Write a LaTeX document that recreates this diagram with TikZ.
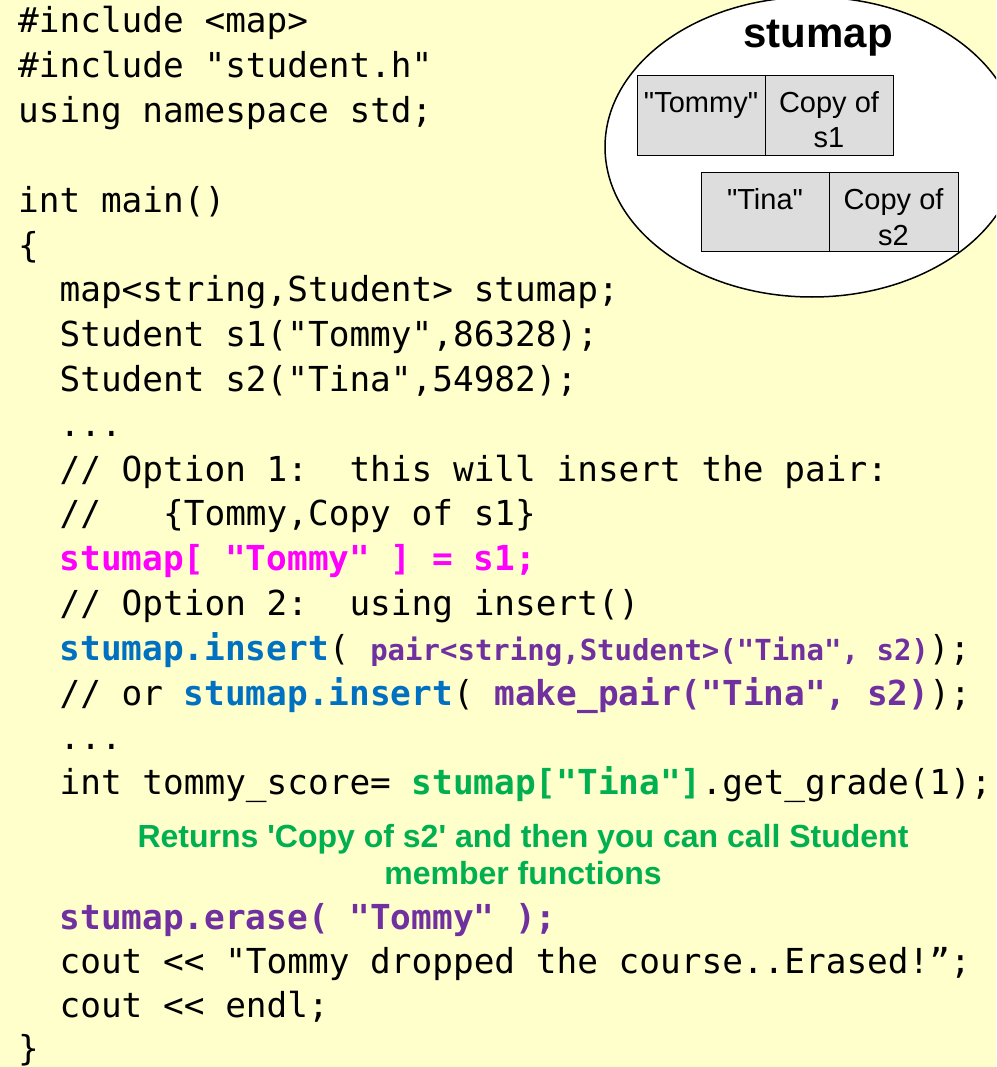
\documentclass[tikz,border=0pt]{standalone}
\usepackage{fontspec}
\usetikzlibrary{shapes.geometric}
\newfontfamily\codefont[Ligatures=TeXOff]{DejaVu Sans Mono}
\newfontfamily\arialfont[Ligatures=TeXOff]{Liberation Sans}
\definecolor{bgyellow}{HTML}{FFFFCC}
\definecolor{cellgray}{HTML}{DDDDDD}
\definecolor{cmagenta}{HTML}{FF00FF}
\definecolor{cblue}{HTML}{0070C0}
\definecolor{cpurple}{HTML}{7030A0}
\definecolor{cgreen}{HTML}{00B050}
% highlighted pieces of source code
\newcommand\hlmag[1]{{\bfseries\color{cmagenta}#1}}
\newcommand\hlblue[1]{{\bfseries\color{cblue}#1}}
\newcommand\hlpur[1]{{\bfseries\color{cpurple}#1}}
\newcommand\hlgrn[1]{{\bfseries\color{cgreen}#1}}
\newcommand\hlsmall[1]{{\fontsize{29}{34}\selectfont\bfseries\color{cpurple}#1}}
\begin{document}
\begin{tikzpicture}[x=1pt,y=-1pt,
  code/.style={anchor=base west, inner sep=0pt, font=\codefont\fontsize{34.4}{41}\selectfont},
  cell/.style={draw=black, line width=1.2pt, fill=cellgray, inner sep=0pt,
               anchor=north west, minimum height=80pt},
  celltext/.style={anchor=base, inner sep=0pt, font=\arialfont\fontsize{29}{35}\selectfont},
  note/.style={anchor=base, inner sep=0pt, text=cgreen,
               font=\arialfont\bfseries\fontsize{32}{37}\selectfont}]

% page background
\fill[bgyellow] (0,0) rectangle (996,1067);
\useasboundingbox (0,0) rectangle (996,1067);
\clip (0,0) rectangle (996,1067);

% ---- the map container ----
\node[ellipse, draw=black, line width=1.5pt, fill=white, inner sep=0pt,
      minimum width=414pt, minimum height=300pt] (mapshape) at (812,147) {};
\node[anchor=base, inner sep=0pt, font=\arialfont\bfseries\fontsize{42}{48}\selectfont]
  (maptitle) at (818,48) {stumap};

\node[cell, minimum width=128pt] (k1) at (637,75) {};
\node[cell, minimum width=128pt] (v1) at (765,75) {};
\node[cell, minimum width=128pt, minimum height=79pt] (k2) at (701,172) {};
\node[cell, minimum width=129pt, minimum height=79pt] (v2) at (829,172) {};

\node[celltext] (k1t)  at (701,113) {"Tommy"};
\node[celltext] (v1ta) at (829,113) {Copy of};
\node[celltext] (v1tb) at (829,148) {s1};
\node[celltext] (k2t)  at (765,210) {"Tina"};
\node[celltext] (v2ta) at (893.5,210) {Copy of};
\node[celltext] (v2tb) at (893.5,245) {s2};

% ---- source listing ----
\node[code] (l1)  at (18,33)    {\#include <map>};
\node[code] (l2)  at (18,77.8)  {\#include "student.h"};
\node[code] (l3)  at (18,122.6) {using namespace std;};
\node[code] (l5)  at (18,212.2) {int main()};
\node[code] (l6)  at (18,257)   {\{};
\node[code] (l7)  at (59.4,301.8) {map<string,Student> stumap;};
\node[code] (l8)  at (59.4,346.6) {Student s1("Tommy",86328);};
\node[code] (l9)  at (59.4,391.4) {Student s2("Tina",54982);};
\node[code] (l10) at (59.4,436.2) {...};
\node[code] (l11) at (59.4,481)   {// Option 1:~~this will insert the pair:};
\node[code] (l12) at (59.4,525.8) {//~~~\{Tommy,Copy of s1\}};
\node[code] (l13) at (59.4,570.6) {\hlmag{stumap[ "Tommy" ] = s1;}};
\node[code] (l14) at (59.4,615.4) {// Option 2:~~using insert()};
\node[code] (l15) at (59.4,660.2) {\hlblue{stumap.insert}( \hlsmall{pair<string,Student>("Tina", s2)});};
\node[code] (l16) at (59.4,705)   {// or \hlblue{stumap.insert}( \hlpur{make\_pair("Tina", s2)});};
\node[code] (l17) at (59.4,749.8) {...};
\node[code] (l18) at (59.4,794.6) {int tommy\_score= \hlgrn{stumap["Tina"]}.get\_grade(1);};

\node[note] (n1) at (523,847) {Returns 'Copy of s2' and then you can call Student};
\node[note] (n2) at (523,884) {member functions};

\node[code] (l21) at (59.4,929)  {\hlpur{stumap.erase( "Tommy" );}};
\node[code] (l22) at (59.4,973)  {cout << "Tommy dropped the course..Erased!”;};
\node[code] (l23) at (59.4,1017) {cout << endl;};
\node[code] (l24) at (18,1060)   {\}};
\end{tikzpicture}
\end{document}
